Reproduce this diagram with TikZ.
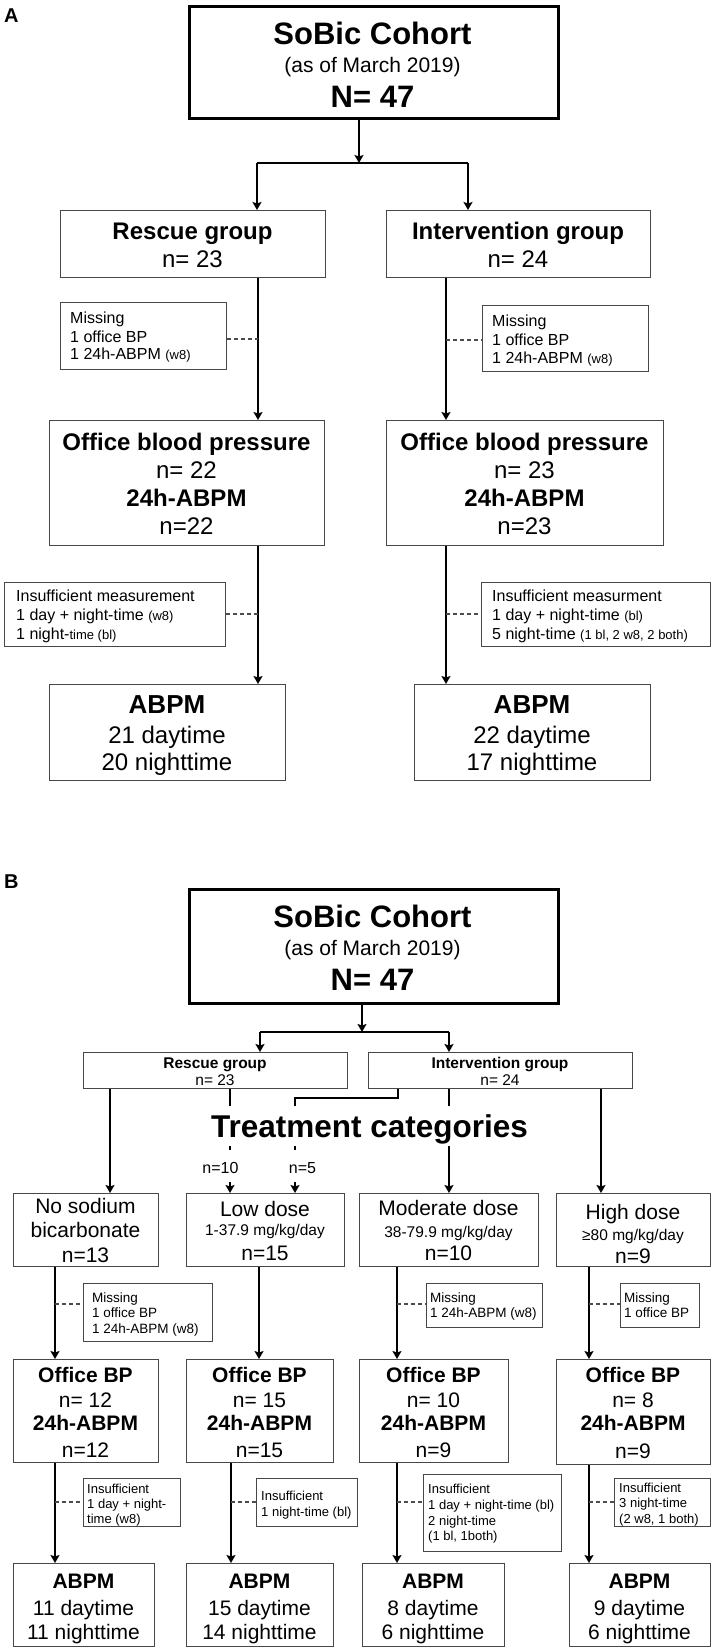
\documentclass[tikz,border=0pt]{standalone}
\usepackage{fontspec}
\setmainfont{Liberation Sans}
\usetikzlibrary{arrows.meta}
\newcommand\fzr[1]{\fontsize{#1}{#1}\selectfont}
\newcommand\fzb[1]{\fontsize{#1}{#1}\selectfont\bfseries}
\begin{document}
\begin{tikzpicture}[x=1pt,y=-1pt,
  box/.style={draw=black!72, line width=1.2pt, anchor=north west, inner sep=0pt},
  topbox/.style={draw=black, line width=3pt, anchor=north west, inner sep=0pt},
  tx/.style={anchor=base, inner sep=0pt},
  txl/.style={anchor=base west, inner sep=0pt},
  ln/.style={draw=black, line width=2pt},
  arr/.style={ln, -{Stealth[length=8pt,width=9pt,inset=1.5pt]}},
  dsh/.style={draw=black!70, line width=1.1pt, dash pattern=on 4pt off 3pt}]
\useasboundingbox (0,0) rectangle (716,1652);

% ===================== PANEL A =====================
\node[tx, anchor=base west, font=\fzb{20}] (labA) at (4,22) {A};

\node[topbox, minimum width=369pt, minimum height=112pt] (topA) at (188,5) {};
\node[tx, font=\fzb{31}] (tA1) at (372.5,44) {SoBic Cohort};
\node[tx, font=\fzr{21}] (tA2) at (372.5,72) {(as of March 2019)};
\node[tx, font=\fzb{31}] (tA3) at (372.5,107) {N= 47};

\node[box, minimum width=265pt, minimum height=67pt] (rescA) at (60,210) {};
\node[tx, font=\fzb{24}] (rescA1) at (192.5,239) {Rescue group};
\node[tx, font=\fzr{24}] (rescA2) at (192.5,267) {n= 23};

\node[box, minimum width=264pt, minimum height=67pt] (intA) at (386,210) {};
\node[tx, font=\fzb{24}] (intA1) at (518,239) {Intervention group};
\node[tx, font=\fzr{24}] (intA2) at (518,267) {n= 24};

\node[box, minimum width=166pt, minimum height=67pt] (missAL) at (60,302) {};
\node[txl, font=\fzr{16}] (missAL1) at (70,323) {Missing};
\node[txl, font=\fzr{16}] (missAL2) at (70,342) {1 office BP};
\node[txl, font=\fzr{16}] (missAL3) at (70,359) {1 24h-ABPM {\fzr{13}(w8)}};

\node[box, minimum width=166pt, minimum height=66pt] (missAR) at (482,305) {};
\node[txl, font=\fzr{16}] (missAR1) at (492,326) {Missing};
\node[txl, font=\fzr{16}] (missAR2) at (492,345) {1 office BP};
\node[txl, font=\fzr{16}] (missAR3) at (492,363) {1 24h-ABPM {\fzr{13}(w8)}};

\node[box, minimum width=275pt, minimum height=125pt] (offAL) at (49,420) {};
\node[tx, font=\fzb{24}] (offAL1) at (186.5,450) {Office blood pressure};
\node[tx, font=\fzr{24}] (offAL2) at (186.5,478) {n= 22};
\node[tx, font=\fzb{24}] (offAL3) at (186.5,506) {24h-ABPM};
\node[tx, font=\fzr{24}] (offAL4) at (186.5,534) {n=22};

\node[box, minimum width=277pt, minimum height=125pt] (offAR) at (386,420) {};
\node[tx, font=\fzb{24}] (offAR1) at (524.5,450) {Office blood pressure};
\node[tx, font=\fzr{24}] (offAR2) at (524.5,478) {n= 23};
\node[tx, font=\fzb{24}] (offAR3) at (524.5,506) {24h-ABPM};
\node[tx, font=\fzr{24}] (offAR4) at (524.5,534) {n=23};

\node[box, minimum width=221pt, minimum height=64pt] (insAL) at (4,582) {};
\node[txl, font=\fzr{16}] (insAL1) at (16,601) {Insufficient measurement};
\node[txl, font=\fzr{16}] (insAL2) at (16,620) {1 day + night-time {\fzr{13}(w8)}};
\node[txl, font=\fzr{16}] (insAL3) at (16,639) {1 night-{\fzr{13}time (bl)}};

\node[box, minimum width=229pt, minimum height=64pt] (insAR) at (481,582) {};
\node[txl, font=\fzr{16}] (insAR1) at (492,601) {Insufficient measurment};
\node[txl, font=\fzr{16}] (insAR2) at (492,620) {1 day + night-time {\fzr{13}(bl)}};
\node[txl, font=\fzr{16}] (insAR3) at (492,639) {5 night-time {\fzr{13}(1 bl, 2 w8, 2 both)}};

\node[box, minimum width=236pt, minimum height=96pt] (abAL) at (49,684) {};
\node[tx, font=\fzb{26}] (abAL1) at (167,713) {ABPM};
\node[tx, font=\fzr{24}] (abAL2) at (167,743) {21 daytime};
\node[tx, font=\fzr{24}] (abAL3) at (167,770) {20 nighttime};

\node[box, minimum width=236pt, minimum height=96pt] (abAR) at (414,684) {};
\node[tx, font=\fzb{26}] (abAR1) at (532,713) {ABPM};
\node[tx, font=\fzr{24}] (abAR2) at (532,743) {22 daytime};
\node[tx, font=\fzr{24}] (abAR3) at (532,770) {17 nighttime};

% connectors A
\coordinate (jA) at (359,163);
\coordinate (jAl) at (257,163);
\coordinate (jAr) at (468,163);
\coordinate (cAl) at (258,0);
\coordinate (cAr) at (446,0);
\draw[arr] (topA.south -| jA) -- (jA);
\draw[ln] (jAl) -- (jAr);
\draw[arr] (jAl) -- (jAl |- rescA.north);
\draw[arr] (jAr) -- (jAr |- intA.north);
\draw[arr] (rescA.south -| cAl) -- (offAL.north -| cAl);
\draw[arr] (intA.south -| cAr) -- (offAR.north -| cAr);
\draw[dsh] (missAL.east |- 0,339) -- (cAl |- 0,339);
\draw[dsh] (cAr |- 0,340) -- (missAR.west |- 0,340);
\draw[arr] (offAL.south -| cAl) -- (abAL.north -| cAl);
\draw[arr] (offAR.south -| cAr) -- (abAR.north -| cAr);
\draw[dsh] (insAL.east |- 0,614) -- (cAl |- 0,614);
\draw[dsh] (cAr |- 0,614) -- (insAR.west |- 0,614);

% ===================== PANEL B =====================
\node[tx, anchor=base west, font=\fzb{20}] (labB) at (4,888) {B};

\node[topbox, minimum width=369pt, minimum height=114pt] (topB) at (188,888) {};
\node[tx, font=\fzb{31}] (tB1) at (372.5,927) {SoBic Cohort};
\node[tx, font=\fzr{21}] (tB2) at (372.5,955) {(as of March 2019)};
\node[tx, font=\fzb{31}] (tB3) at (372.5,990) {N= 47};

\node[box, minimum width=264pt, minimum height=36pt] (rescB) at (83,1052) {};
\node[tx, font=\fzb{15.5}] (rescB1) at (215,1068) {Rescue group};
\node[tx, font=\fzr{15.5}] (rescB2) at (215,1085) {n= 23};

\node[box, minimum width=264pt, minimum height=36pt] (intB) at (368,1052) {};
\node[tx, font=\fzb{15.5}] (intB1) at (500,1068) {Intervention group};
\node[tx, font=\fzr{15.5}] (intB2) at (500,1085) {n= 24};

\node[tx, font=\fzb{31.5}] (treat) at (369.5,1137) {Treatment categories};
\node[tx, font=\fzr{16}] (n10) at (220.5,1173) {n=10};
\node[tx, font=\fzr{16}] (n5) at (302.5,1173) {n=5};

\node[box, minimum width=145pt, minimum height=73pt] (noB) at (13,1193) {};
\node[tx, font=\fzr{21}] (noB1) at (85.5,1213) {No sodium};
\node[tx, font=\fzr{21}] (noB2) at (85.5,1237) {bicarbonate};
\node[tx, font=\fzr{21}] (noB3) at (85.5,1262) {n=13};

\node[box, minimum width=158pt, minimum height=73pt] (lowB) at (186,1193) {};
\node[tx, font=\fzr{21}] (lowB1) at (265,1216) {Low dose};
\node[tx, font=\fzr{15.5}] (lowB2) at (265,1235) {1-37.9 mg/kg/day};
\node[tx, font=\fzr{21}] (lowB3) at (265,1260) {n=15};

\node[box, minimum width=179pt, minimum height=73pt] (modB) at (359,1193) {};
\node[tx, font=\fzr{21}] (modB1) at (448.5,1215) {Moderate dose};
\node[tx, font=\fzr{15.5}] (modB2) at (448.5,1237) {38-79.9 mg/kg/day};
\node[tx, font=\fzr{21}] (modB3) at (448.5,1260) {n=10};

\node[box, minimum width=154pt, minimum height=73pt] (highB) at (556,1193) {};
\node[tx, font=\fzr{21}] (highB1) at (633,1219) {High dose};
\node[tx, font=\fzr{15.5}] (highB2) at (633,1240) {≥80 mg/kg/day};
\node[tx, font=\fzr{21}] (highB3) at (633,1263) {n=9};

\node[box, minimum width=129pt, minimum height=58pt] (miss1) at (83,1283) {};
\node[txl, font=\fzr{13.5}] (miss1a) at (92,1302) {Missing};
\node[txl, font=\fzr{13.5}] (miss1b) at (92,1317) {1 office BP};
\node[txl, font=\fzr{13.5}] (miss1c) at (92,1333) {1 24h-ABPM (w8)};

\node[box, minimum width=116pt, minimum height=44pt] (miss3) at (426,1283) {};
\node[txl, font=\fzr{13.5}] (miss3a) at (430,1302) {Missing};
\node[txl, font=\fzr{13.5}] (miss3b) at (430,1317) {1 24h-ABPM (w8)};

\node[box, minimum width=79pt, minimum height=44pt] (miss4) at (620,1283) {};
\node[txl, font=\fzr{13.5}] (miss4a) at (624,1302) {Missing};
\node[txl, font=\fzr{13.5}] (miss4b) at (624,1317) {1 office BP};

\node[box, minimum width=145pt, minimum height=103pt] (off1) at (13,1359) {};
\node[tx, font=\fzb{21}] (off1a) at (85.5,1382) {Office BP};
\node[tx, font=\fzr{21}] (off1b) at (85.5,1407) {n= 12};
\node[tx, font=\fzb{21}] (off1c) at (85.5,1430) {24h-ABPM};
\node[tx, font=\fzr{21}] (off1d) at (85.5,1457) {n=12};

\node[box, minimum width=147pt, minimum height=103pt] (off2) at (186,1359) {};
\node[tx, font=\fzb{21}] (off2a) at (259.5,1382) {Office BP};
\node[tx, font=\fzr{21}] (off2b) at (259.5,1407) {n= 15};
\node[tx, font=\fzb{21}] (off2c) at (259.5,1430) {24h-ABPM};
\node[tx, font=\fzr{21}] (off2d) at (259.5,1457) {n=15};

\node[box, minimum width=149pt, minimum height=103pt] (off3) at (359,1359) {};
\node[tx, font=\fzb{21}] (off3a) at (433.5,1382) {Office BP};
\node[tx, font=\fzr{21}] (off3b) at (433.5,1407) {n= 10};
\node[tx, font=\fzb{21}] (off3c) at (433.5,1430) {24h-ABPM};
\node[tx, font=\fzr{21}] (off3d) at (433.5,1457) {n=9};

\node[box, minimum width=154pt, minimum height=105pt] (off4) at (556,1359) {};
\node[tx, font=\fzb{21}] (off4a) at (633,1382) {Office BP};
\node[tx, font=\fzr{21}] (off4b) at (633,1407) {n= 8};
\node[tx, font=\fzb{21}] (off4c) at (633,1430) {24h-ABPM};
\node[tx, font=\fzr{21}] (off4d) at (633,1458) {n=9};

\node[box, minimum width=97pt, minimum height=48pt] (ins1) at (83,1478) {};
\node[txl, font=\fzr{13}] (ins1a) at (87,1493) {Insufficient};
\node[txl, font=\fzr{13}] (ins1b) at (87,1508) {1 day + night-};
\node[txl, font=\fzr{13}] (ins1c) at (87,1523) {time (w8)};

\node[box, minimum width=101pt, minimum height=48pt] (ins2) at (256,1478) {};
\node[txl, font=\fzr{13}] (ins2a) at (261,1500) {Insufficient};
\node[txl, font=\fzr{13}] (ins2b) at (261,1516) {1 night-time (bl)};

\node[box, minimum width=138pt, minimum height=77pt] (ins3) at (423,1474) {};
\node[txl, font=\fzr{13}] (ins3a) at (428,1493) {Insufficient};
\node[txl, font=\fzr{13}] (ins3b) at (428,1509) {1 day + night-time (bl)};
\node[txl, font=\fzr{13}] (ins3c) at (428,1525) {2 night-time};
\node[txl, font=\fzr{13}] (ins3d) at (428,1540) {(1 bl, 1both)};

\node[box, minimum width=96pt, minimum height=48pt] (ins4) at (614,1478) {};
\node[txl, font=\fzr{13}] (ins4a) at (619,1492) {Insufficient};
\node[txl, font=\fzr{13}] (ins4b) at (619,1507) {3 night-time};
\node[txl, font=\fzr{13}] (ins4c) at (619,1523) {(2 w8, 1 both)};

\node[box, minimum width=141pt, minimum height=83pt] (ab1) at (13,1563) {};
\node[tx, font=\fzb{21}] (ab1a) at (83.5,1588) {ABPM};
\node[tx, font=\fzr{21}] (ab1b) at (83.5,1615) {11 daytime};
\node[tx, font=\fzr{21}] (ab1c) at (83.5,1639) {11 nighttime};

\node[box, minimum width=147pt, minimum height=83pt] (ab2) at (186,1563) {};
\node[tx, font=\fzb{21}] (ab2a) at (259.5,1588) {ABPM};
\node[tx, font=\fzr{21}] (ab2b) at (259.5,1615) {15 daytime};
\node[tx, font=\fzr{21}] (ab2c) at (259.5,1639) {14 nighttime};

\node[box, minimum width=142pt, minimum height=83pt] (ab3) at (362,1563) {};
\node[tx, font=\fzb{21}] (ab3a) at (433,1588) {ABPM};
\node[tx, font=\fzr{21}] (ab3b) at (433,1615) {8 daytime};
\node[tx, font=\fzr{21}] (ab3c) at (433,1639) {6 nighttime};

\node[box, minimum width=141pt, minimum height=83pt] (ab4) at (569,1563) {};
\node[tx, font=\fzb{21}] (ab4a) at (639.5,1588) {ABPM};
\node[tx, font=\fzr{21}] (ab4b) at (639.5,1615) {9 daytime};
\node[tx, font=\fzr{21}] (ab4c) at (639.5,1639) {6 nighttime};

% connectors B
\coordinate (jB) at (362,1032);
\coordinate (jBl) at (260,1032);
\coordinate (jBr) at (449,1032);
\coordinate (cR0) at (110,0);
\coordinate (cR1) at (230,0);
\coordinate (cI1) at (295,0);
\coordinate (cIb) at (398,0);
\coordinate (cI2) at (449,0);
\coordinate (cI3) at (601,0);
\coordinate (k1) at (55,0);
\coordinate (k2u) at (259,0);
\coordinate (k2d) at (231,0);
\coordinate (k3) at (397,0);
\coordinate (k4) at (589,0);

\draw[arr] (topB.south -| jB) -- (jB);
\draw[ln] (jBl) -- (jBr);
\draw[arr] (jBl) -- (jBl |- rescB.north);
\draw[arr] (jBr) -- (jBr |- intB.north);

\draw[arr] (rescB.south -| cR0) -- (noB.north -| cR0);
\draw[ln] (rescB.south -| cR1) -- (cR1 |- 0,1106);
\draw[ln] (intB.south -| cIb) -- (cIb |- 0,1098) -- (cI1 |- 0,1098) -- (cI1 |- 0,1106);
\draw[ln] (intB.south -| cI2) -- (cI2 |- 0,1106);
\draw[ln] (cR1 |- 0,1146) -- (cR1 |- 0,1150);
\draw[ln] (cI1 |- 0,1146) -- (cI1 |- 0,1150);
\draw[arr] (cR1 |- 0,1182) -- (lowB.north -| cR1);
\draw[arr] (cI1 |- 0,1182) -- (lowB.north -| cI1);
\draw[arr] (cI2 |- 0,1146) -- (modB.north -| cI2);
\draw[arr] (intB.south -| cI3) -- (highB.north -| cI3);

\draw[arr] (noB.south -| k1) -- (off1.north -| k1);
\draw[arr] (lowB.south -| k2u) -- (off2.north -| k2u);
\draw[arr] (modB.south -| k3) -- (off3.north -| k3);
\draw[arr] (highB.south -| k4) -- (off4.north -| k4);
\draw[dsh] (k1 |- 0,1304) -- (miss1.west |- 0,1304);
\draw[dsh] (k3 |- 0,1304) -- (miss3.west |- 0,1304);
\draw[dsh] (k4 |- 0,1304) -- (miss4.west |- 0,1304);

\draw[arr] (off1.south -| k1) -- (ab1.north -| k1);
\draw[arr] (off2.south -| k2d) -- (ab2.north -| k2d);
\draw[arr] (off3.south -| k3) -- (ab3.north -| k3);
\draw[arr] (off4.south -| k4) -- (ab4.north -| k4);
\draw[dsh] (k1 |- 0,1502) -- (ins1.west |- 0,1502);
\draw[dsh] (k2d |- 0,1502) -- (ins2.west |- 0,1502);
\draw[dsh] (k3 |- 0,1502) -- (ins3.west |- 0,1502);
\draw[dsh] (k4 |- 0,1502) -- (ins4.west |- 0,1502);
\end{tikzpicture}
\end{document}
